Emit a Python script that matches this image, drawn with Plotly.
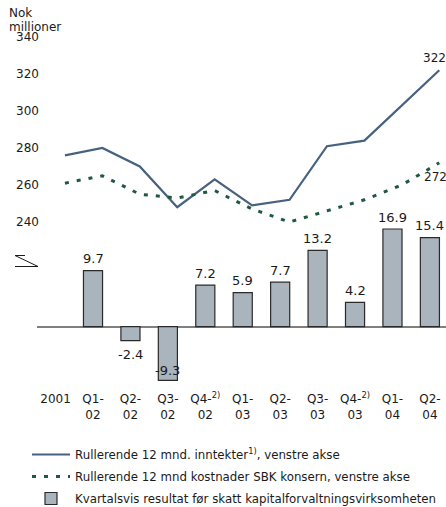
import plotly.graph_objects as go

# ---------------- data ----------------
categories = ["2001", "Q1-02", "Q2-02", "Q3-02", "Q4-02", "Q1-03",
              "Q2-03", "Q3-03", "Q4-03", "Q1-04", "Q2-04"]
tick_labels = ["2001", "Q1-<br>02", "Q2-<br>02", "Q3-<br>02", "Q4-<sup>2)</sup><br>02",
               "Q1-<br>03", "Q2-<br>03", "Q3-<br>03", "Q4-<sup>2)</sup><br>03",
               "Q1-<br>04", "Q2-<br>04"]
income = [276, 280, 270, 248, 263, 249, 252, 281, 284, 303, 322]
costs = [261, 265, 255, 253, 257, 247, 240, 246, 252, 260, 272]
bar_categories = categories[1:]
result = [9.7, -2.4, -9.3, 7.2, 5.9, 7.7, 13.2, 4.2, 16.9, 15.4]
left_ticks = [240, 260, 280, 300, 320, 340]

name_income = "Rullerende 12 mnd. inntekter<sup>1)</sup>, venstre akse"
name_costs = "Rullerende 12 mnd kostnader SBK konsern, venstre akse"
name_result = "Kvartalsvis resultat før skatt kapitalforvaltningsvirksomheten"

FONT = "DejaVu Sans"
TXT = "#1a1a1a"
W, H = 446, 507
ML, MR, MT, MB = 37, 0, 37, 117
PW, PH = W - ML - MR, H - MT - MB

fig = go.Figure()

# bars on the base subplot (x, y)
fig.add_trace(go.Bar(
    x=bar_categories, y=result, xaxis="x", yaxis="y",
    marker=dict(color="#a9b4bd", line=dict(color="#2a2a2a", width=1.2)),
    name=name_result, legendgroup="c", legendrank=3, hoverinfo="skip"))
# lines on the overlaid subplot (x2, y2)
fig.add_trace(go.Scatter(
    x=categories, y=income, xaxis="x2", yaxis="y2", mode="lines",
    line=dict(color="#46627f", width=2.2), name=name_income,
    legendgroup="a", legendrank=1, hoverinfo="skip"))
fig.add_trace(go.Scatter(
    x=categories, y=costs, xaxis="x2", yaxis="y2", mode="lines",
    line=dict(color="#1f5a40", width=3, dash="4px,8px"), name=name_costs,
    legendgroup="b", legendrank=2, hoverinfo="skip"))

annotations = []
for c, v in zip(bar_categories, result):
    if v >= 0:
        shift = 12
    elif v < -5:
        shift = 10
    else:
        shift = -14
    annotations.append(dict(x=c, y=v, xref="x", yref="y", text=f"{v:.1f}",
                            showarrow=False, yshift=shift,
                            font=dict(family=FONT, size=13, color=TXT)))

# end labels of the lines
annotations += [
    dict(x=categories[0], y=income[0], xref="x2", yref="y2", text=str(income[0]),
         showarrow=False, yshift=13, font=dict(family=FONT, size=12, color=TXT)),
    dict(x=categories[0], y=costs[0], xref="x2", yref="y2", text=str(costs[0]),
         showarrow=False, yshift=9, font=dict(family=FONT, size=12, color=TXT)),
    dict(x=categories[-1], y=income[-1], xref="x2", yref="y2", text=str(income[-1]),
         showarrow=False, yshift=12, xanchor="left", xshift=-18,
         font=dict(family=FONT, size=12, color=TXT)),
    dict(x=categories[-1], y=costs[-1], xref="x2", yref="y2", text=str(costs[-1]),
         showarrow=False, yshift=-14, xanchor="left", xshift=-17,
         font=dict(family=FONT, size=12, color=TXT)),
]


def px2paper_x(px):
    return (px - ML) / PW


def px2paper_y(py):
    return (MT + PH - py) / PH


annotations += [
    dict(x=px2paper_x(7), y=px2paper_y(13), xref="paper", yref="paper", text="Nok",
         xanchor="left", yanchor="middle", showarrow=False,
         font=dict(family=FONT, size=12, color=TXT)),
    dict(x=px2paper_x(7), y=px2paper_y(26.5), xref="paper", yref="paper", text="millioner",
         xanchor="left", yanchor="middle", showarrow=False,
         font=dict(family=FONT, size=12, color=TXT)),
]

# axis break symbol
bx = [px2paper_x(p) for p in (25, 15, 38, 15)]
by = [px2paper_y(p) for p in (255.5, 255.5, 266.5, 266.5)]
path = f"M{bx[0]},{by[0]} L{bx[1]},{by[1]} L{bx[2]},{by[2]} L{bx[3]},{by[3]}"
shapes = [dict(type="path", xref="paper", yref="paper", path=path,
               line=dict(color="#1a1a1a", width=1))]

x_range = [-0.496, 10.43]
line_offset = 0.25

fig.update_layout(
    width=W, height=H,
    margin=dict(l=ML, r=MR, t=MT, b=MB, autoexpand=False),
    paper_bgcolor="white", plot_bgcolor="white",
    font=dict(family=FONT, size=12, color=TXT),
    showlegend=True,
    bargap=0.49,
    xaxis=dict(type="category", categoryorder="array", categoryarray=categories,
               range=x_range, tickmode="array", tickvals=categories, ticktext=tick_labels,
               showgrid=False, showline=False, zeroline=False, ticks="",
               tickfont=dict(family=FONT, size=12, color=TXT)),
    xaxis2=dict(type="category", categoryorder="array", categoryarray=categories,
                overlaying="x", visible=False, anchor="y2",
                range=[x_range[0] - line_offset, x_range[1] - line_offset]),
    yaxis=dict(range=[-10.95, 50.12], showticklabels=False, showgrid=False,
               showline=False, ticks="",
               zeroline=True, zerolinecolor="#808080", zerolinewidth=2),
    yaxis2=dict(range=[149.2, 340], overlaying="y", side="left", anchor="x2",
                tickmode="array", tickvals=left_ticks,
                showgrid=False, showline=False, zeroline=False, ticks="",
                ticklabelstandoff=-3,
                tickfont=dict(family=FONT, size=12, color=TXT)),
    legend=dict(orientation="v", x=px2paper_x(27), y=px2paper_y(440),
                xanchor="left", yanchor="top", traceorder="grouped",
                tracegroupgap=3, itemwidth=38, bgcolor="rgba(0,0,0,0)",
                font=dict(family=FONT, size=11.8, color=TXT)),
    annotations=annotations,
    shapes=shapes,
)

fig.write_html("out.html",
               config={"displayModeBar": False},
               post_script="document.body.style.margin='0';document.body.style.overflow='hidden';")
